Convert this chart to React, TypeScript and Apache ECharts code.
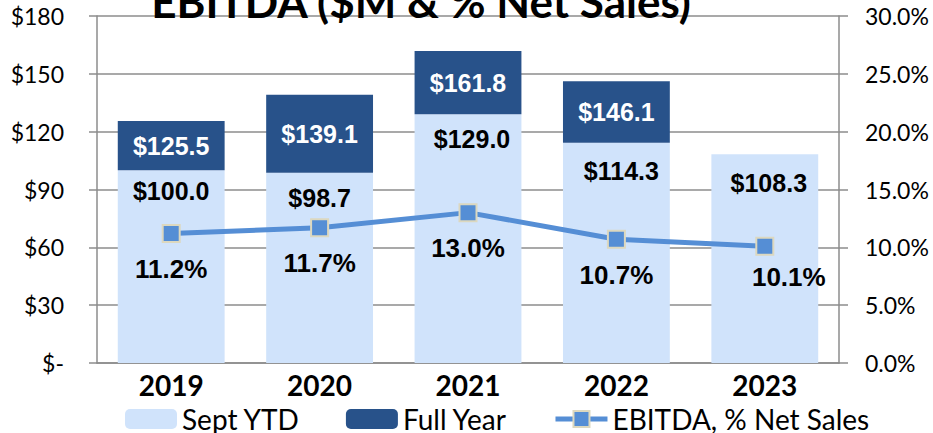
import React, { useEffect, useRef } from "react";
import * as echarts from "echarts";

const years = ["2019", "2020", "2021", "2022", "2023"];
const septYTD = [100.0, 98.7, 129.0, 114.3, 108.3];
const fullYear: (number | null)[] = [125.5, 139.1, 161.8, 146.1, null];
const ebitdaPct = [11.2, 11.7, 13.0, 10.7, 10.1];
const leftTicks = ["$-", "$30", "$60", "$90", "$120", "$150", "$180"];

const LIGHT = "#d0e3fb";
const DARK = "#28528a";
const LINE = "#558ed5";
const GRIDC = "#8c8c8c";

// label nudges (styling only)
const ytdLabelOffsets = [[0, 0], [0, 5], [4, 4], [5, 8], [4, 8]];
const pctLabelOffsets = [[0, 0], [0, 0], [0, 0], [0, 0], [24, -5]];

export default function App() {
  const ref = useRef<HTMLDivElement>(null);
  useEffect(() => {
    document.body.style.margin = "0";
    const chart = echarts.init(ref.current!, null, { renderer: "svg" });
    const remainder = fullYear.map((f, i) => (f == null ? null : +(f - septYTD[i]).toFixed(1)));
    chart.setOption({
      animation: false,
      backgroundColor: "#ffffff",
      graphic: [
        {
          type: "text",
          x: 421,
          y: 1,
          z: 100,
          style: {
            text: "EBITDA ($M & % Net Sales)",
            font: "bold 44px Lato",
            fill: "#000",
            align: "center",
            verticalAlign: "middle",
          },
        },
      ],
      legend: {
        left: 125,
        top: 405,
        padding: 0,
        itemWidth: 52,
        itemHeight: 20,
        itemGap: 46,
        textStyle: {
          fontFamily: "Lato",
          fontSize: 28,
          lineHeight: 22,
          padding: [0, 0, 6, 0],
          color: "#000",
        },
        data: [
          { name: "Sept YTD" },
          { name: "Full Year" },
          { name: "EBITDA, % Net Sales", lineStyle: { width: 5, color: LINE } },
        ],
      },
      grid: { left: 97, right: 94, top: 16, bottom: 70 },
      xAxis: {
        type: "category",
        data: years,
        axisLine: { lineStyle: { color: GRIDC, width: 1.5 } },
        axisTick: { show: false },
        axisLabel: {
          margin: 8,
          fontFamily: "Lato",
          fontWeight: "bold",
          fontSize: 28,
          color: "#000",
        },
      },
      yAxis: [
        {
          type: "value",
          min: 0,
          max: 180,
          interval: 30,
          axisLine: { show: true, lineStyle: { color: GRIDC, width: 1.5 } },
          axisTick: { show: true, length: 8, lineStyle: { color: GRIDC, width: 1.5 } },
          splitLine: { lineStyle: { color: GRIDC, width: 1.5 } },
          axisLabel: {
            margin: 33,
            fontFamily: "Lato",
            fontSize: 23,
            color: "#000",
            formatter: (v: number) => leftTicks[Math.round(v / 30)],
          },
        },
        {
          type: "value",
          min: 0,
          max: 30,
          interval: 5,
          position: "right",
          axisLine: { show: true, lineStyle: { color: GRIDC, width: 1.5 } },
          axisTick: { show: true, length: 9, lineStyle: { color: GRIDC, width: 1.5 } },
          splitLine: { show: false },
          axisLabel: {
            margin: 26,
            fontFamily: "Lato",
            fontSize: 23,
            color: "#000",
            formatter: (v: number) => v.toFixed(1) + "%",
          },
        },
      ],
      series: [
        {
          name: "Sept YTD",
          type: "bar",
          stack: "ebitda",
          barWidth: "72%",
          itemStyle: { color: LIGHT },
          data: septYTD.map((v, i) => ({ value: v, label: { offset: ytdLabelOffsets[i] } })),
          z: 2,
          label: {
            show: true,
            position: "insideTop",
            distance: 8,
            fontFamily: "Liberation Sans",
            fontWeight: "bold",
            fontSize: 25,
            color: "#000",
            formatter: (p: any) => "$" + septYTD[p.dataIndex].toFixed(1),
          },
        },
        {
          name: "Full Year",
          type: "bar",
          stack: "ebitda",
          itemStyle: { color: DARK },
          data: remainder,
          z: 2,
          label: {
            show: true,
            position: "inside",
            fontFamily: "Liberation Sans",
            fontWeight: "bold",
            fontSize: 25,
            color: "#fff",
            formatter: (p: any) =>
              fullYear[p.dataIndex] == null ? "" : "$" + (fullYear[p.dataIndex] as number).toFixed(1),
          },
        },
        {
          name: "EBITDA, % Net Sales",
          type: "line",
          yAxisIndex: 1,
          z: 5,
          data: ebitdaPct.map((v, i) => ({ value: v, label: { offset: pctLabelOffsets[i] } })),
          lineStyle: { color: LINE, width: 5 },
          itemStyle: { color: LINE, borderColor: "#dcd8bf", borderWidth: 2 },
          symbol: "rect",
          symbolSize: 17,
          label: {
            show: true,
            position: "bottom",
            distance: 13,
            fontFamily: "Liberation Sans",
            fontWeight: "bold",
            fontSize: 26,
            color: "#000",
            formatter: (p: any) => ebitdaPct[p.dataIndex].toFixed(1) + "%",
          },
        },
      ],
    });
    return () => chart.dispose();
  }, []);
  return <div ref={ref} style={{ width: 933, height: 433 }} />;
}
